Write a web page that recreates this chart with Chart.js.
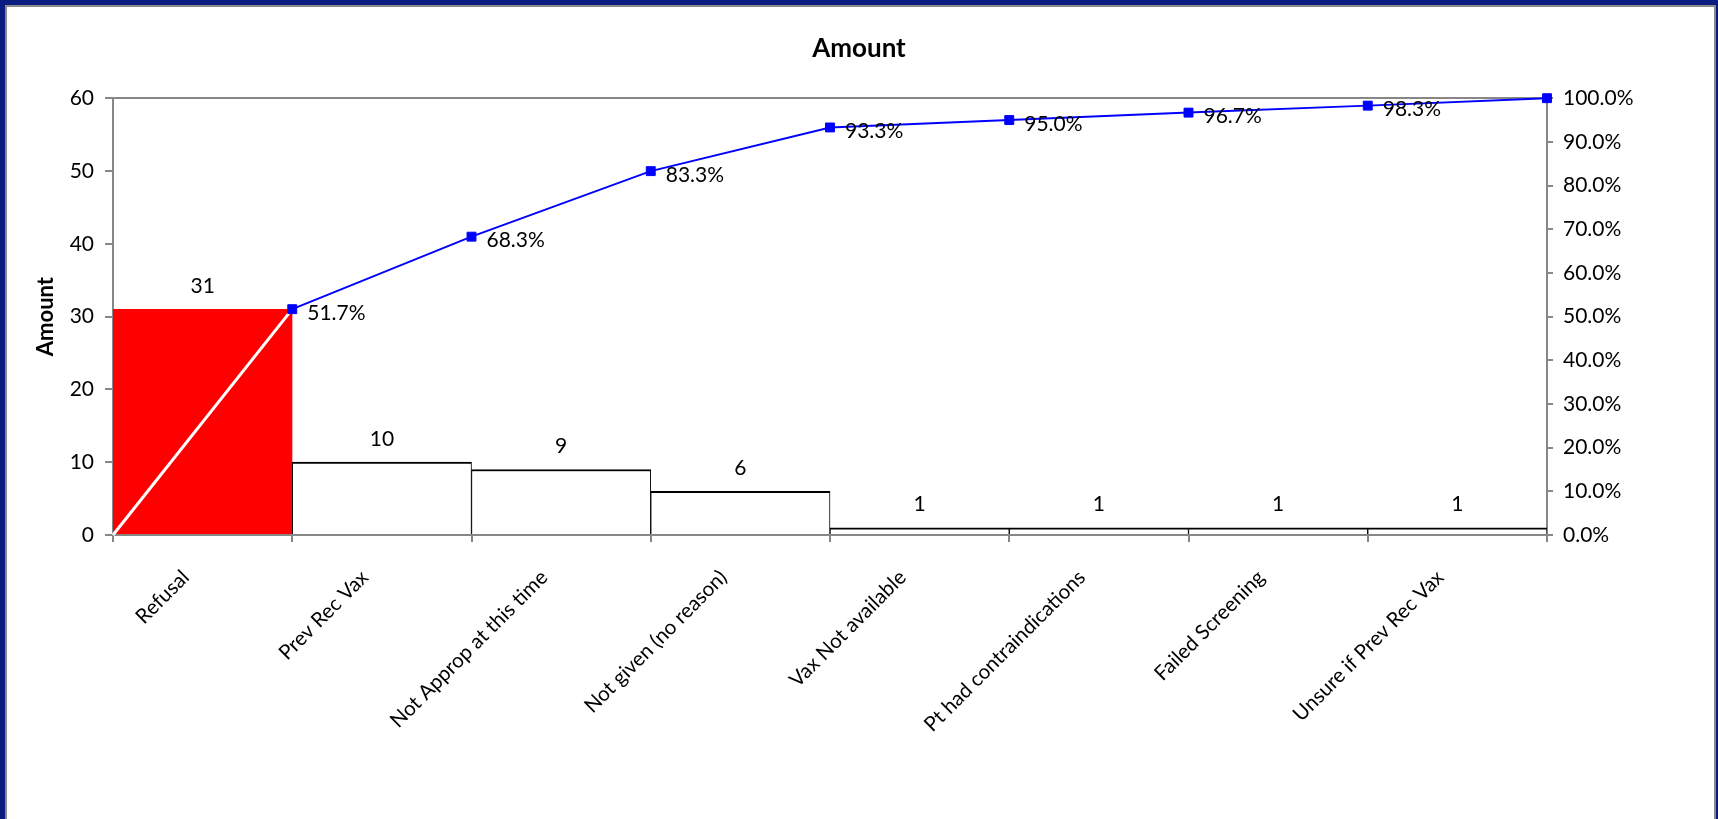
<!DOCTYPE html>
<html>
<head>
<meta charset="utf-8">
<title>Amount</title>
<script src="https://cdn.jsdelivr.net/npm/chart.js@4.4.1/dist/chart.umd.min.js"></script>
<style>
    html, body { margin: 0; padding: 0; }
    body { width: 1718px; height: 819px; background: #0a1c80; position: relative; overflow: hidden; }
    .panel { position: absolute; left: 5px; top: 5px; width: 1711px; height: 830px; background: #fff; border: 2px solid #8a8a8a; box-sizing: border-box; }
    #pareto { position: absolute; left: 0; top: 0; }
</style>
</head>
<body>
<div class="panel"></div>
<canvas id="pareto" width="1718" height="819"></canvas>
<script>
const categories = [
    "Refusal",
    "Prev Rec Vax",
    "Not Approp at this time",
    "Not given (no reason)",
    "Vax Not available",
    "Pt had contraindications",
    "Failed Screening",
    "Unsure if Prev Rec Vax",
];
const amounts = [31, 10, 9, 6, 1, 1, 1, 1];
const cumulativePct = [51.7, 68.3, 83.3, 93.3, 95.0, 96.7, 98.3, 100.0];
const amountTicks = [0, 10, 20, 30, 40, 50, 60];
const pctTicks = [0, 10, 20, 30, 40, 50, 60, 70, 80, 90, 100];

const axisGray = "#878787";
const font = { family: "Lato", size: 21 };

// cumulative line runs along the bar edges, starting at the origin
const cumulativePoints = [{ x: 0, y: 0 }].concat(
    cumulativePct.map((v, i) => ({ x: i + 1, y: v }))
);

const valueLabels = {
    id: "valueLabels",
    afterDatasetsDraw(chart) {
        const ctx = chart.ctx;
        ctx.save();
        ctx.font = "21px Lato";
        ctx.fillStyle = "#000";
        ctx.textBaseline = "middle";

        ctx.textAlign = "center";
        chart.getDatasetMeta(0).data.forEach((bar, i) => {
            ctx.fillText(String(amounts[i]), bar.x, bar.y - 23);
        });

        // last point sits on the 100% axis label, Excel leaves it unlabeled
        ctx.textAlign = "left";
        chart.getDatasetMeta(1).data.forEach((pt, i) => {
            if (i === 0 || i === cumulativePct.length) return;
            ctx.fillText(cumulativePct[i - 1].toFixed(1) + "%", pt.x + 15, pt.y + 4);
        });

        // category names, rotated 45deg under each bar
        const xs = chart.scales.x;
        ctx.font = "20.5px Lato";
        ctx.textAlign = "right";
        categories.forEach((label, i) => {
            ctx.save();
            ctx.translate(xs.getPixelForTick(i) - 17, xs.top + 39);
            ctx.rotate(-Math.PI / 4);
            ctx.fillText(label, 0, 0);
            ctx.restore();
        });
        ctx.restore();
    },
};

new Chart(document.getElementById("pareto"), {
    data: {
        labels: categories,
        datasets: [
            {
                type: "bar",
                data: amounts,
                xAxisID: "x",
                yAxisID: "y",
                order: 1,
                grouped: false,
                backgroundColor: amounts.map((v, i) => (i === 0 ? "#ff0000" : "#ffffff")),
                borderColor: amounts.map((v, i) => (i === 0 ? "#ff0000" : "#000000")),
                borderWidth: { top: 2, left: 1, right: 1, bottom: 0 },
                barPercentage: 1,
                categoryPercentage: 1,
            },
            {
                type: "line",
                data: cumulativePoints,
                xAxisID: "x2",
                yAxisID: "y2",
                order: 0,
                clip: false,
                borderColor: "#0000ff",
                borderWidth: 2,
                segment: {
                    borderColor: (c) => (c.p0DataIndex === 0 ? "#ffffff" : "#0000ff"),
                    borderWidth: (c) => (c.p0DataIndex === 0 ? 3 : 2),
                },
                pointStyle: "rect",
                pointRadius: (c) => (c.dataIndex === 0 ? 0 : 6.3),
                pointBackgroundColor: "#0000ff",
                pointBorderColor: "#0000ff",
                pointBorderWidth: 1,
                tension: 0,
            },
        ],
    },
    options: {
        responsive: false,
        animation: false,
        layout: { padding: 0 },
        plugins: {
            legend: { display: false },
            tooltip: { enabled: false },
            title: {
                display: true,
                text: "Amount",
                color: "#000",
                font: { family: "Lato", size: 26, weight: "bold" },
                padding: { top: 33, bottom: 34 },
            },
        },
        scales: {
            x: {
                type: "category",
                offset: true,
                grid: {
                    offset: true,
                    drawOnChartArea: false,
                    color: axisGray,
                    lineWidth: 2,
                    tickLength: 7,
                },
                border: { color: axisGray, width: 2 },
                ticks: { display: false, autoSkip: false },
                afterFit: (s) => { s.height = 284; },
            },
            x2: {
                type: "linear",
                min: 0,
                max: categories.length,
                display: false,
            },
            y: {
                position: "left",
                min: 0,
                max: 60,
                afterBuildTicks: (s) => { s.ticks = amountTicks.map((v) => ({ value: v })); },
                grid: {
                    color: (c) => (c.tick && c.tick.value === 60 ? axisGray : "rgba(0,0,0,0)"),
                    tickColor: axisGray,
                    lineWidth: 2,
                    tickLength: 8,
                },
                border: { color: axisGray, width: 2 },
                ticks: { padding: 11, color: "#000", font: font },
                title: {
                    display: true,
                    text: "Amount",
                    color: "#000",
                    font: { family: "Lato", size: 22, weight: "bold" },
                    padding: { top: 33, bottom: 0 },
                },
                afterFit: (s) => { s.width = 113; },
            },
            y2: {
                position: "right",
                min: 0,
                max: 100,
                afterBuildTicks: (s) => { s.ticks = pctTicks.map((v) => ({ value: v })); },
                grid: {
                    drawOnChartArea: false,
                    color: axisGray,
                    lineWidth: 2,
                    tickLength: 6,
                },
                border: { color: axisGray, width: 2 },
                ticks: {
                    padding: 10,
                    color: "#000",
                    font: font,
                    callback: (v) => v.toFixed(1) + "%",
                },
                afterFit: (s) => { s.width = 171; },
            },
        },
    },
    plugins: [valueLabels],
});
</script>
</body>
</html>
